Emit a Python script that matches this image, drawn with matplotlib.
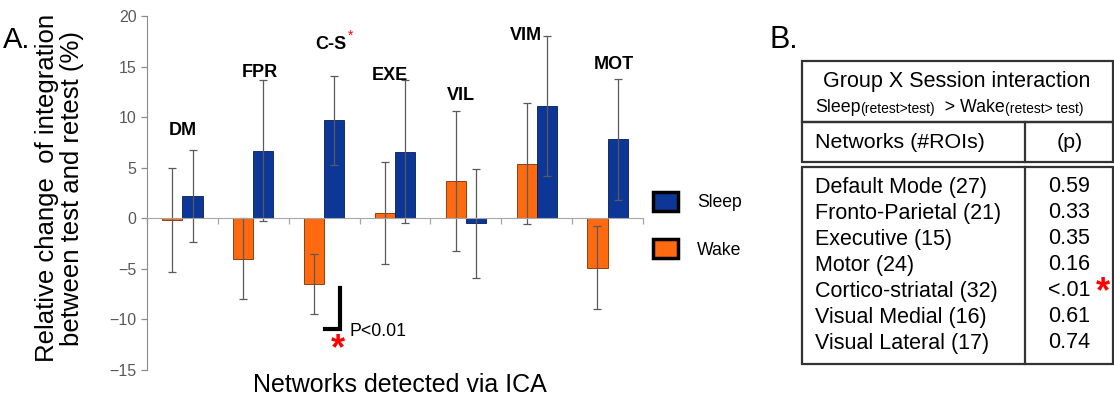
import numpy as np
import matplotlib.pyplot as plt
from matplotlib.patches import Patch, Rectangle

plt.rcParams['font.family'] = ['Liberation Sans', 'DejaVu Sans']

# ---- data ----
networks = ['DM', 'FPR', 'C-S', 'EXE', 'VIL', 'VIM', 'MOT']
wake = [-0.2, -4.0, -6.5, 0.5, 3.7, 5.4, -4.9]
wake_err = [5.15, 4.0, 3.0, 5.05, 6.95, 5.95, 4.1]
sleep = [2.2, 6.7, 9.7, 6.6, -0.5, 11.1, 7.8]
sleep_err = [4.55, 6.95, 4.4, 7.1, 5.4, 6.95, 5.95]

table_rows = ['Default Mode (27)', 'Fronto-Parietal (21)', 'Executive (15)',
              'Motor (24)', 'Cortico-striatal (32)', 'Visual Medial (16)',
              'Visual Lateral (17)']
table_p = ['0.59', '0.33', '0.35', '0.16', '<.01', '0.61', '0.74']

BLUE = '#0D3796'
ORANGE = '#FF6A10'
GRAY = '#595959'

# label placement (layout only)
label_y = [8.7, 14.4, 17.2, 14.1, 12.1, 18.1, 15.2]
label_dx = [0.0, 0.1, 0.1, -0.07, -0.07, -0.15, 0.09]

W, H = 1114, 396
fig = plt.figure(figsize=(W / 100, H / 100), dpi=100)
ax = fig.add_axes([147 / W, 1 - 370 / H, 496 / W, 354 / H])

x = np.arange(len(networks))
w = 0.285
err_kw = dict(ecolor='#5a5a5a', elinewidth=0.9, capsize=3, capthick=0.9)
ax.bar(x - w / 2, wake, w, yerr=wake_err, color=ORANGE, edgecolor='#7a3000',
       linewidth=0.6, error_kw=err_kw, zorder=2, label='Wake')
ax.bar(x + w / 2, sleep, w, yerr=sleep_err, color=BLUE, edgecolor='#061d55',
       linewidth=0.6, error_kw=err_kw, zorder=2, label='Sleep')

ax.set_xlim(-0.5, len(networks) - 0.5)
ax.set_ylim(-15, 20)
ax.set_yticks(np.arange(-15, 21, 5))
ax.tick_params(axis='y', colors='#8c8c8c', labelcolor=GRAY, labelsize=11.5,
               length=4, width=0.9)

ax.spines['top'].set_visible(False)
ax.spines['right'].set_visible(False)
ax.spines['left'].set_color('#8c8c8c')
ax.spines['bottom'].set_position(('data', 0))
ax.spines['bottom'].set_color('#a6a6a6')
ax.set_xticks(np.arange(len(networks) + 1) - 0.5)
ax.set_xticklabels([])
ax.tick_params(axis='x', length=4, width=0.9, colors='#a6a6a6', direction='out')

for i, name in enumerate(networks):
    ax.text(i + label_dx[i], label_y[i], name, ha='center', va='center',
            fontsize=13, fontweight='bold')
ax.text(2.37, 18.0, '*', color='red', fontsize=10, ha='center', va='center')

# significance bracket
ax.plot([2.22, 2.22, 2.01], [-6.9, -10.9, -10.9], color='black', lw=3,
        solid_joinstyle='miter', clip_on=False)
ax.text(2.36, -11.2, 'P<0.01', fontsize=12.8, ha='left', va='center')
ax.text(2.19, -13.0, '*', color='red', fontsize=26, fontweight='bold',
        ha='center', va='center')

ax.set_ylabel('Relative change  of integration\nbetween test and retest (%)',
              fontsize=18.5, linespacing=1.05)
ax.yaxis.set_label_coords(-0.128, 0.514)
fig.text(400 / W, 1 - 385 / H, 'Networks detected via ICA', fontsize=18,
         ha='center', va='center')

fig.text(3 / W, 1 - 40 / H, 'A.', fontsize=21, ha='left', va='center')
fig.text(769 / W, 1 - 40 / H, 'B.', fontsize=22, ha='left', va='center')

handles = [Patch(facecolor=BLUE, edgecolor='black', linewidth=2.5, label='Sleep'),
           Patch(facecolor=ORANGE, edgecolor='black', linewidth=2.5, label='Wake')]
fig.legend(handles=handles, loc='upper left',
           bbox_to_anchor=(653 / W, 1 - 192 / H), frameon=False,
           fontsize=12.7, handlelength=1.42, handleheight=1.25,
           handletextpad=1.08, labelspacing=1.6, borderpad=0,
           borderaxespad=0)

# ---- panel B table (pixel coordinates) ----
tb = fig.add_axes([0, 0, 1, 1])
tb.set_xlim(0, W)
tb.set_ylim(H, 0)
tb.axis('off')
tb.patch.set_alpha(0)
lc = '#333333'
for (x0, y0, x1, y1) in [(802, 61, 1113, 122), (802, 122, 1113, 162),
                         (802, 167, 1113, 364)]:
    tb.add_patch(Rectangle((x0, y0), x1 - x0, y1 - y0, fill=False,
                           edgecolor=lc, lw=1.6))
tb.plot([1025, 1025], [122, 162], color=lc, lw=1.6)
tb.plot([1025, 1025], [167, 364], color=lc, lw=1.6)

tb.text(957, 82, 'Group X Session interaction', fontsize=15.5, ha='center',
        va='center')
t = tb.text(815, 107, 'Sleep', fontsize=12.8, ha='left', va='center')
t = tb.annotate('(retest>test)', xy=(1, 0), xycoords=t, fontsize=10,
                ha='left', va='bottom')
t = tb.annotate('  > Wake', xy=(1, 0), xycoords=t, fontsize=12.8,
                ha='left', va='bottom')
tb.annotate('(retest> test)', xy=(1, 0), xycoords=t, fontsize=10,
            ha='left', va='bottom')

tb.text(815, 143, 'Networks (#ROIs)', fontsize=15.4, ha='left', va='center')
tb.text(1070, 143, '(p)', fontsize=15.4, ha='center', va='center')
for k, (name, p) in enumerate(zip(table_rows, table_p)):
    yy = 187 + 26 * k
    tb.text(815, yy, name, fontsize=15.5, ha='left', va='center')
    tb.text(1069, yy, p, fontsize=15.5, ha='center', va='center')
    if p.startswith('<'):
        tb.text(1103, yy + 2, '*', color='red', fontsize=26, fontweight='bold',
                ha='center', va='center')

fig.savefig('out.png', dpi=100)
